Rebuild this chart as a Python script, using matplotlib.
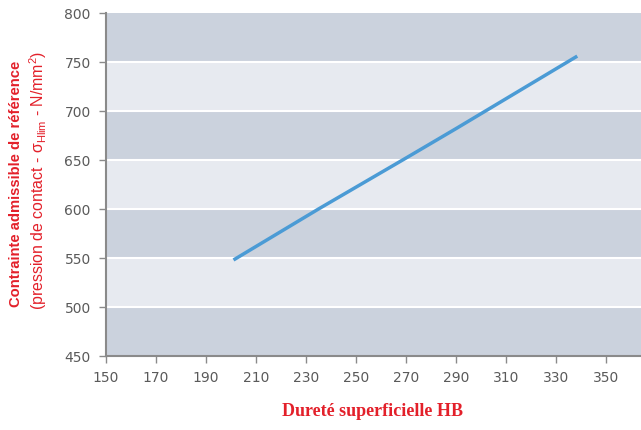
import matplotlib
matplotlib.use("Agg")
import matplotlib.pyplot as plt
import numpy as np

# Data
hardness = [201, 235, 270, 290, 338.5]
stress = [548, 600, 652, 682, 756]
x_ticks = [150, 170, 190, 210, 230, 250, 270, 290, 310, 330, 350]
y_ticks = [450, 500, 550, 600, 650, 700, 750, 800]

dark = "#cbd2dd"
light = "#e7eaf0"
red = "#e3202a"
gray = "#5a5a5a"

fig = plt.figure(figsize=(6.41, 4.30), dpi=100)
ax = fig.add_axes([106/641, 1-356/430, (641-106)/641, (356-13)/430])
ax.set_xlim(150, 364)
ax.set_ylim(450, 800)

for i in range(len(y_ticks)-1):
    c = dark if i % 2 == 0 else light
    ax.axhspan(y_ticks[i], y_ticks[i+1], color=c, lw=0, zorder=0)
for y in y_ticks[1:-1]:
    ax.axhline(y, color="white", lw=1.5, zorder=1)

ax.plot(hardness, stress, color="#4b9bd5", lw=2.5, zorder=3, solid_capstyle="butt")

ax.set_xticks(x_ticks)
ax.set_yticks(y_ticks)
for s in ["top", "right"]:
    ax.spines[s].set_visible(False)
for s in ["left", "bottom"]:
    ax.spines[s].set_color("#8a8a8a")
    ax.spines[s].set_linewidth(1.5)
ax.tick_params(axis="both", colors="#8a8a8a", labelcolor=gray, length=5, width=1, labelsize=10)
ax.tick_params(axis="x", pad=6)
ax.tick_params(axis="y", pad=6)

fig.text(373/641, 1-412/430, "Dureté superficielle HB", color=red, fontsize=13,
         fontweight="bold", family=["Liberation Serif", "DejaVu Serif"], ha="center", va="center")
fig.text(16/641, 1-184/430, "Contrainte admissible de référence", color=red, fontsize=10.6,
         fontweight="bold", family=["Liberation Sans Narrow", "Liberation Sans", "DejaVu Sans"],
         rotation=90, ha="center", va="center")
fig.text(38/641, 1-180/430, "(pression de contact - σ$_{\\mathregular{Hlim}}$ - N/mm$^{\\mathregular{2}}$)",
         color=red, fontsize=11.4, family=["Liberation Sans", "DejaVu Sans"],
         rotation=90, ha="center", va="center")

fig.savefig("out.png", dpi=100)
